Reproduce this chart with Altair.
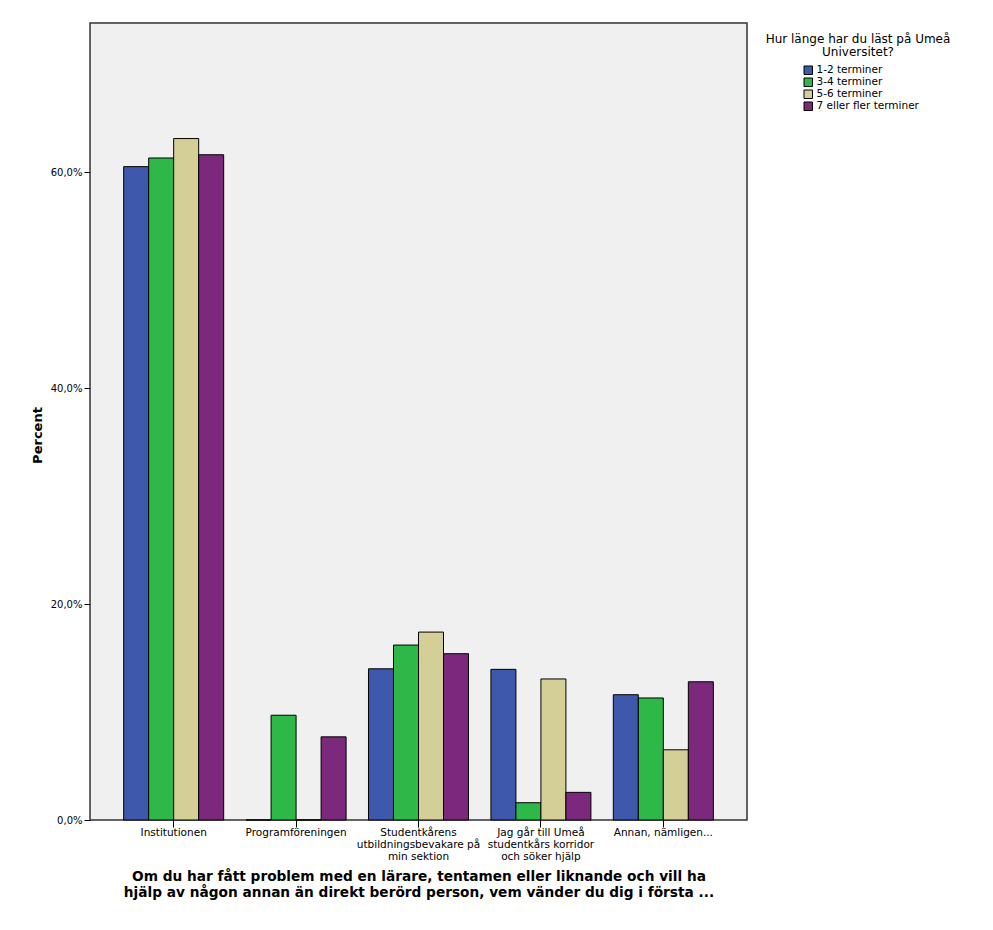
import altair as alt
import pandas as pd

categories = [
    "Institutionen",
    "Programföreningen",
    "Studentkårens|utbildningsbevakare på|min sektion",
    "Jag går till Umeå|studentkårs korridor|och söker hjälp",
    "Annan, nämligen...",
]
groups = ["1-2 terminer", "3-4 terminer", "5-6 terminer", "7 eller fler terminer"]
colors = ["#3e58ac", "#2eb848", "#d4cf97", "#7b287d"]

v_1_2 = [60.5, 0.0, 14.0, 13.95, 11.6]
v_3_4 = [61.3, 9.7, 16.2, 1.6, 11.3]
v_5_6 = [63.1, 0.0, 17.4, 13.06, 6.5]
v_7 = [61.6, 7.7, 15.4, 2.56, 12.8]

legend_title = "Hur länge har du läst på Umeå\nUniversitet?"
x_title = [
    "Om du har fått problem med en lärare, tentamen eller liknande och vill ha",
    "hjälp av någon annan än direkt berörd person, vem vänder du dig i första ...",
]
y_title = "Percent"

rows = []
for g, vals in zip(groups, [v_1_2, v_3_4, v_5_6, v_7]):
    for c, v in zip(categories, vals):
        rows.append({"cat": c, "grp": g, "pct": v})
df = pd.DataFrame(rows)

FONT = "DejaVu Sans"

bars = alt.Chart(df).mark_bar(stroke="black", strokeWidth=1).encode(
    x=alt.X(
        "cat:N",
        sort=categories,
        scale=alt.Scale(paddingInner=0.183, paddingOuter=0.275),
        axis=alt.Axis(
            title=x_title,
            labelExpr="split(datum.label, '|')",
            labelAngle=0,
            labelFont=FONT,
            labelFontSize=10.5,
            labelLineHeight=12,
            labelColor="black",
            labelPadding=0,
            tickSize=7,
            tickColor="black",
            domain=False,
            titleFont=FONT,
            titleFontSize=13.7,
            titleFontWeight="bold",
            titleColor="black",
            titleLineHeight=16,
            titlePadding=8,
        ),
    ),
    xOffset=alt.XOffset("grp:N", sort=groups, scale=alt.Scale(paddingInner=0, paddingOuter=0)),
    y=alt.Y(
        "pct:Q",
        scale=alt.Scale(domain=[0, 73.8], nice=False),
        axis=alt.Axis(
            title=y_title,
            values=[0, 20, 40, 60],
            labelExpr="replace(format(datum.value, '.1f'), '.', ',') + '%'",
            labelFont=FONT,
            labelFontSize=10,
            labelColor="black",
            labelPadding=2,
            tickSize=6,
            tickColor="black",
            grid=False,
            domain=False,
            titleFont=FONT,
            titleFontSize=13,
            titleFontWeight="bold",
            titleColor="black",
            titlePadding=6,
            titleY=412,
        ),
    ),
    color=alt.Color(
        "grp:N",
        sort=groups,
        scale=alt.Scale(domain=groups, range=colors),
        legend=alt.Legend(
            title=None,
            orient="none",
            legendX=713,
            legendY=42,
            symbolType="square",
            symbolSize=72,
            symbolStrokeColor="black",
            symbolStrokeWidth=1,
            symbolOpacity=1,
            labelFont=FONT,
            labelFontSize=10.5,
            labelColor="black",
            labelOffset=3,
            rowPadding=-2.6,
        ),
    ),
)

title_text = alt.Chart(pd.DataFrame({"t": [legend_title]})).mark_text(
    font=FONT,
    fontSize=12,
    color="black",
    align="center",
    baseline="top",
    lineBreak="\n",
    lineHeight=13,
).encode(
    x=alt.value(768),
    y=alt.value(11),
    text="t:N",
)

chart = alt.layer(bars, title_text).properties(
    width=657,
    height=797,
    autosize=alt.AutoSizeParams(type="none"),
    padding={"left": 82, "top": 15, "right": 230, "bottom": 95},
    background="white",
).configure_view(
    fill="#f0f0f0",
    stroke="#333333",
    strokeWidth=1.5,
)

chart.save("out.html", embed_options={"renderer": "svg", "actions": False})
